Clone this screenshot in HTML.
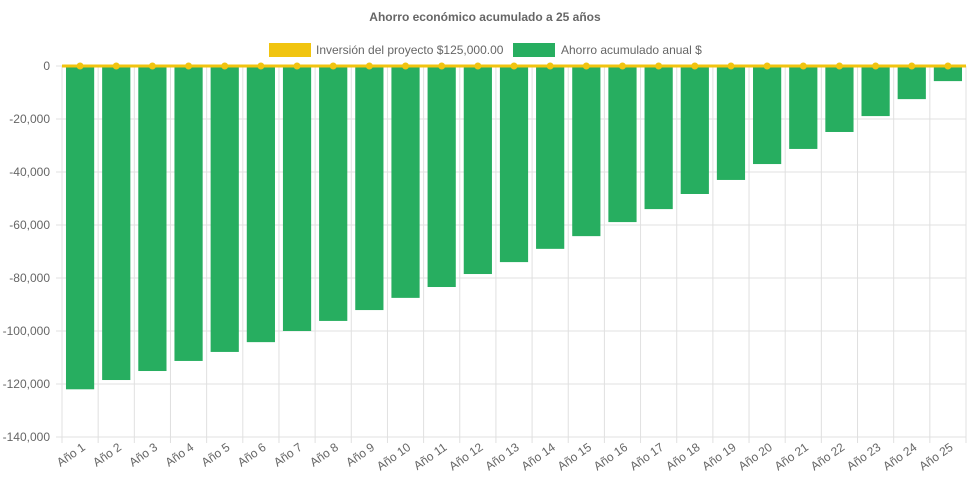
<!DOCTYPE html>
<html><head><meta charset="utf-8"><style>
body{margin:0;background:#fff;font-family:"Liberation Sans",sans-serif}
svg{display:block}
</style></head><body>
<svg id="chart" width="971" height="485" xmlns="http://www.w3.org/2000/svg"></svg>
<script>
const categories=["Año 1","Año 2","Año 3","Año 4","Año 5","Año 6","Año 7","Año 8","Año 9","Año 10","Año 11","Año 12","Año 13","Año 14","Año 15","Año 16","Año 17","Año 18","Año 19","Año 20","Año 21","Año 22","Año 23","Año 24","Año 25"];
const savings=[-122000,-118500,-115100,-111300,-107900,-104200,-100000,-96200,-92100,-87500,-83400,-78500,-74000,-69000,-64200,-58900,-54000,-48300,-43000,-37000,-31300,-24900,-18900,-12500,-5700];
const investment=[0,0,0,0,0,0,0,0,0,0,0,0,0,0,0,0,0,0,0,0,0,0,0,0,0];
const yTicks=[0,-20000,-40000,-60000,-80000,-100000,-120000,-140000];
const NS="http://www.w3.org/2000/svg";
const svg=document.getElementById('chart');
const L=62,R=966,T=66,B=437;
const yMin=-140000,yMax=0;
function y(v){return T+(yMax-v)/(yMax-yMin)*(B-T);}
const bw=(R-L)/categories.length;
function xc(i){return L+bw*(i+0.5);}
function mk(tag,attrs,parent){const e=document.createElementNS(NS,tag);for(const k in attrs)e.setAttribute(k,attrs[k]);(parent||svg).appendChild(e);return e;}
const title=mk('text',{x:485,y:21,'text-anchor':'middle','font-size':12,'font-weight':'bold',fill:'#666'});


title.textContent='Ahorro económico acumulado a 25 años';
// legend
const lg1=mk('g',{});


mk('rect',{x:269,y:43,width:42,height:14,fill:'#f1c40f'},lg1);
mk('text',{x:316,y:54,'font-size':12,fill:'#666'},lg1).textContent='Inversión del proyecto $125,000.00';
const lg2=mk('g',{});


mk('rect',{x:513,y:43,width:42,height:14,fill:'#27ae60'},lg2);
mk('text',{x:561,y:54,'font-size':12,fill:'#666'},lg2).textContent='Ahorro acumulado anual $';
// grid
yTicks.forEach(v=>{
  const g=mk('line',{x1:L-6,x2:R,y1:y(v),y2:y(v),stroke:'#e0e0e0','stroke-width':1});
  
  
  const t=mk('text',{x:50,y:y(v)+4,'text-anchor':'end','font-size':12,fill:'#666'});
  
  
  t.textContent=v.toLocaleString('en-US');
});
for(let i=0;i<=categories.length;i++){
  const x=L+bw*i;
  const g=mk('line',{x1:x,x2:x,y1:T,y2:B+6,stroke:'#e0e0e0','stroke-width':1});
  
  
}
categories.forEach((c,i)=>{
  const t=mk('text',{x:xc(i)+6,y:B+12,'text-anchor':'end','font-size':12,fill:'#666',transform:`rotate(-35 ${xc(i)+6} ${B+12})`});
  
  
  t.textContent=c;
});
savings.forEach((v,i)=>{
  const w=bw*0.78;
  const r=mk('rect',{x:xc(i)-w/2,y:y(0),width:w,height:y(v)-y(0),fill:'#27ae60'});
  
  
});
const pts=investment.map((v,i)=>xc(i)+','+y(v));
const pl=mk('polyline',{points:[L+','+y(0)].concat(pts).concat([R+','+y(0)]).join(' '),fill:'none',stroke:'#f1c40f','stroke-width':3});


investment.forEach((v,i)=>{
  const c=mk('circle',{cx:xc(i),cy:y(v),r:3.5,fill:'#f1c40f'});
  
  
});
</script>
</body></html>
